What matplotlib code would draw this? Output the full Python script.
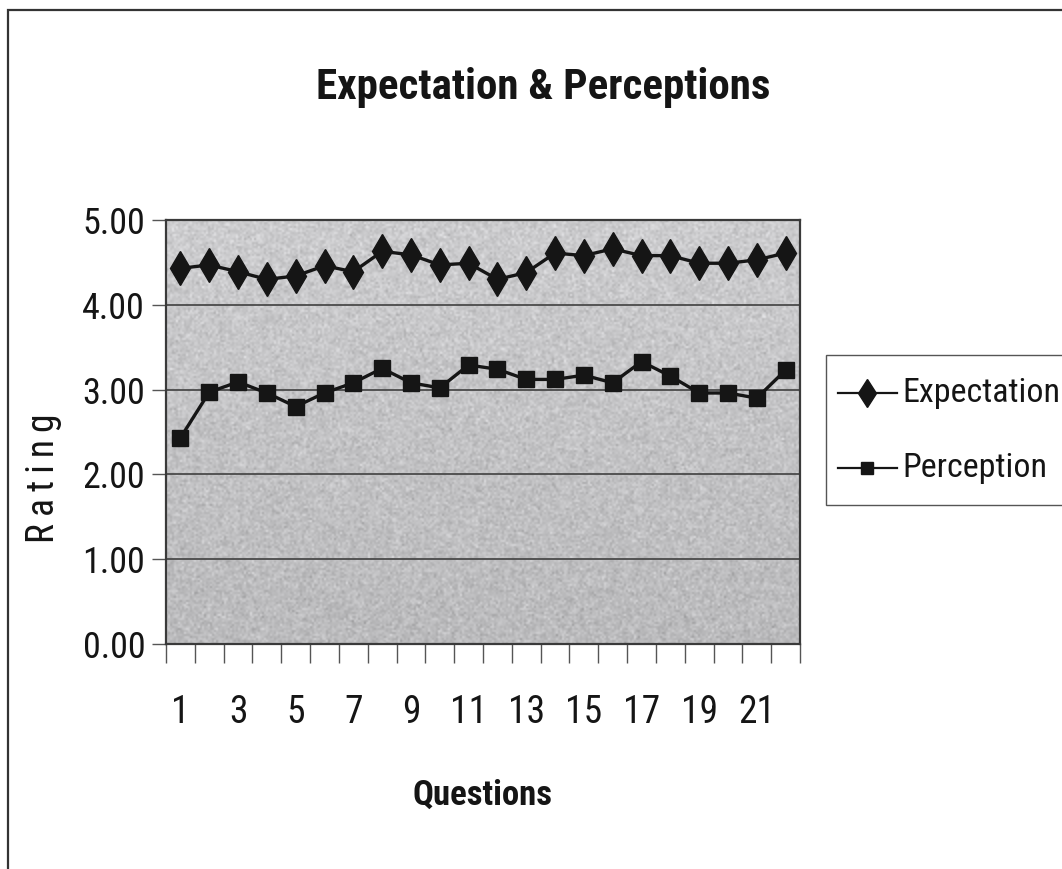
import matplotlib

matplotlib.use("Agg")
import matplotlib.pyplot as plt
import numpy as np
from matplotlib import font_manager
from matplotlib.lines import Line2D
from matplotlib.patches import Rectangle
from matplotlib.ticker import FixedLocator, NullFormatter

INK = "#151515"

questions = list(range(1, 23))
expectation = [4.43, 4.47, 4.39, 4.30, 4.34, 4.46, 4.39, 4.63, 4.59, 4.47, 4.49,
               4.30, 4.38, 4.61, 4.58, 4.66, 4.58, 4.58, 4.49, 4.49, 4.53, 4.61]
perception = [2.43, 2.97, 3.09, 2.96, 2.80, 2.96, 3.08, 3.25, 3.08, 3.02, 3.29,
              3.24, 3.12, 3.12, 3.17, 3.08, 3.33, 3.16, 2.96, 2.96, 2.90, 3.23]
y_ticks = [0, 1, 2, 3, 4, 5]
x_labels = [1, 3, 5, 7, 9, 11, 13, 15, 17, 19, 21]

# pick a condensed face if one is installed
installed = {f.name for f in font_manager.fontManager.ttflist}
narrow = [n for n in ["Liberation Sans Narrow", "DejaVu Sans Condensed",
                      "Roboto Condensed", "Open Sans Condensed"] if n in installed]
plt.rcParams["font.family"] = narrow + ["Liberation Sans", "DejaVu Sans"]
plt.rcParams["font.stretch"] = "condensed"

fig = plt.figure(figsize=(10.62, 8.69), dpi=100)
fig.patch.set_facecolor("white")

# outer chart frame, running off the right and bottom edges
fig.patches.append(Rectangle((8 / 1062, -0.1), 1.2, 1 - 10 / 869 + 0.1,
                             transform=fig.transFigure, fill=False,
                             edgecolor="#333333", linewidth=1.6))

ax = fig.add_axes([166 / 1062, 1 - 644 / 869, 634 / 1062, 424 / 869])

# grainy grey plot-area fill, a little darker toward the bottom
rng = np.random.default_rng(7)
shade = np.linspace(0.80, 0.73, 212)[:, None] + rng.normal(0, 0.04, (212, 317))
shade = np.clip(shade, 0, 1)
ax.imshow(np.dstack([shade, shade, shade * 1.01]).clip(0, 1),
          extent=[0.5, 22.5, 0, 5], aspect="auto", zorder=0,
          interpolation="bilinear")

for y in y_ticks[1:-1]:
    ax.axhline(y, color="#4a4a4a", linewidth=1.3, zorder=1)

ax.plot(questions, expectation, color=INK, linewidth=2.4, marker="d",
        markersize=17, markerfacecolor=INK, markeredgecolor=INK, zorder=3,
        label="Expectation")
ax.plot(questions, perception, color=INK, linewidth=2.4, marker="s",
        markersize=11, markerfacecolor=INK, markeredgecolor=INK, zorder=3,
        label="Perception")

ax.set_xlim(0.5, 22.5)
ax.set_ylim(0, 5)
for side in ax.spines.values():
    side.set_color("#3a3a3a")
    side.set_linewidth(1.6)

ax.set_yticks(y_ticks)
ax.set_yticklabels([f"{v:.2f}" for v in y_ticks])
ax.tick_params(axis="y", length=10, width=1, color="#555555", pad=5,
               labelsize=26, labelcolor=INK)

ax.xaxis.set_major_locator(FixedLocator(x_labels))
ax.set_xticklabels([str(v) for v in x_labels])
ax.xaxis.set_minor_locator(FixedLocator(np.arange(0.5, 23, 1)))
ax.xaxis.set_minor_formatter(NullFormatter())
ax.tick_params(axis="x", which="major", length=0, pad=36, labelsize=27,
               labelcolor=INK)
ax.tick_params(axis="x", which="minor", length=14, width=1, color="#555555")

fig.text(543 / 1062, 1 - 88 / 869, "Expectation & Perceptions", ha="center",
         va="center", fontsize=31, fontweight="bold", color=INK)
fig.text(483 / 1062, 1 - 795 / 869, "Questions", ha="center", va="center",
         fontsize=25, fontweight="bold", color=INK)
fig.text(43 / 1062, 1 - 478 / 869, "R\u2009a\u2009t\u2009i\u2009n\u2009g",
         ha="center", va="center", rotation=90, fontsize=27, color=INK)

# legend box, cut off at the right edge
fig.patches.append(Rectangle((826 / 1062, 1 - 505 / 869), 0.3, 150 / 869,
                             transform=fig.transFigure, facecolor="white",
                             edgecolor="#555555", linewidth=1.0))
entries = [("Expectation", "d", 17, 393), ("Perception", "s", 11, 468)]
for name, mk, ms, ypx in entries:
    yy = 1 - ypx / 869
    fig.lines.append(Line2D([838 / 1062, 897 / 1062], [yy, yy],
                            transform=fig.transFigure, color=INK, linewidth=1.6))
    fig.lines.append(Line2D([867 / 1062], [yy], transform=fig.transFigure,
                            color=INK, marker=mk, markersize=ms * 0.85,
                            markerfacecolor=INK, markeredgecolor=INK))
    fig.text(902 / 1062, yy, name, ha="left", va="center", fontsize=24.5,
             color=INK)

fig.savefig("out.png", dpi=100, facecolor="white")
